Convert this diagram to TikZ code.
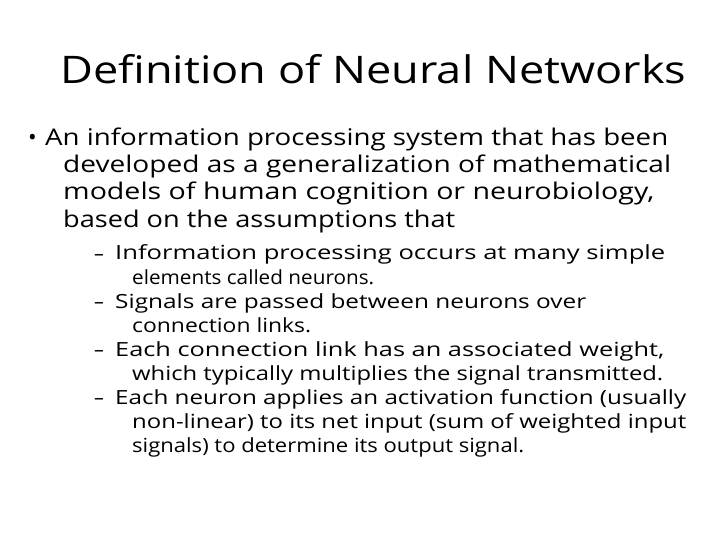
\documentclass[tikz,border=0pt]{standalone}
\usepackage{fontspec}
\usepackage{graphicx}
\setmainfont{Open Sans}
\newcommand{\spr}[2]{\resizebox{#1pt}{\height}{#2}}
\begin{document}
\begin{tikzpicture}[x=1pt,y=-1pt,
  t/.style={anchor=base west,inner sep=0pt,font=\fontsize{23}{26}\selectfont},
  s/.style={anchor=base west,inner sep=0pt,font=\fontsize{19.5}{22}\selectfont}]
\useasboundingbox[fill=white] (0,0) rectangle (720,540);
\node[anchor=base west,inner sep=0pt,font=\fontsize{38}{44}\selectfont] (title) at (60,84) {\spr{626}{Definition of Neural Networks}};
\node[t] (b) at (28,146) {•};
\node[t] (l1) at (45,146) {\spr{623}{An information processing system that has been}};
\node[t] (l2) at (63,173) {\spr{608}{developed as a generalization of mathematical}};
\node[t] (l3) at (63,200) {\spr{591}{models of human cognition or neurobiology,}};
\node[t] (l4) at (63,227) {\spr{392}{based on the assumptions that}};
\foreach \y/\w/\txt/\n in {260/550/Information processing occurs at many simple/a,
  308/471/Signals are passed between neurons over/b,
  356/549/{Each connection link has an associated weight,}/c,
  404/571/Each neuron applies an activation function (usually/d}{
  \node[s] (d\n) at (94,\y) {–};
  \node[s] (s\n) at (115,\y) {\spr{\w}{\txt}};
}
\foreach \y/\w/\txt/\n in {284/242/elements called neurons./a,
  332/179/connection links./b,
  380/531/which typically multiplies the signal transmitted./c,
  428/554/non-linear) to its net input (sum of weighted input/d,
  452/392/signals) to determine its output signal./e}{
  \node[s] (c\n) at (132,\y) {\spr{\w}{\txt}};
}
\end{tikzpicture}
\end{document}
